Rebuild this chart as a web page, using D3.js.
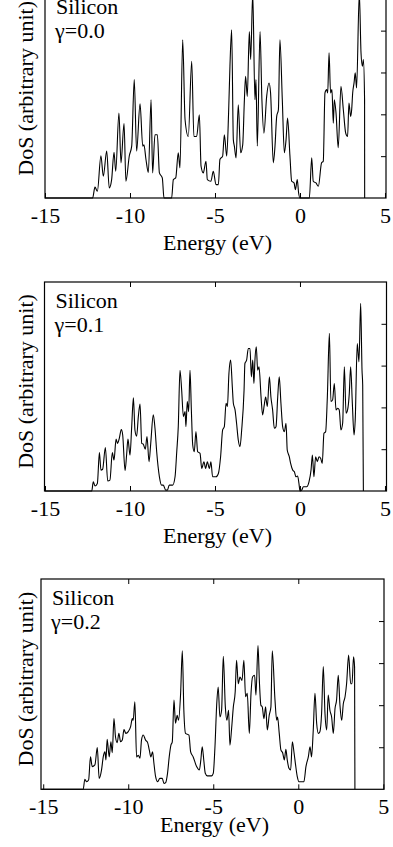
<!DOCTYPE html>
<html>
<head>
<meta charset="utf-8">
<script src="https://cdn.jsdelivr.net/npm/d3@7"></script>
<style>
  html, body { margin: 0; padding: 0; background: #fff; }
  svg { display: block; }
  text { font-family: "Liberation Serif", "Times New Roman", serif; fill: #000; }
</style>
</head>
<body>
<svg id="chart" width="393" height="847"></svg>
<script>
// ---------- data ----------
const material = "Silicon";
const gammaLabels = ["γ=0.0", "γ=0.1", "γ=0.2"];
const xTickValues = [-15, -10, -5, 0, 5];
const xTickLabels = ["-15", "-10", "-5", "0", "5"];
const yTickValues = [1, 2, 3, 4];
const xAxisTitle = "Energy (eV)";
const yAxisTitle = "DoS (arbitrary unit)";

// gamma = 0.0
const energy0 = [-15,-12.2,-12.06,-11.92,-11.71,-11.57,-11.37,-11.22,-11.08,-10.94,-10.84,-10.65,-10.53,-10.35,-10.24,-10.04,-9.9,-9.75,-9.61,-9.41,-9.25,-9.18,-9.06,-8.92,-8.76,-8.67,-8.53,-8.39,-8.27,-8.1,-8.0,-7.55,-7.45,-7.31,-7.16,-7.06,-6.9,-6.76,-6.57,-6.37,-6.24,-6.08,-5.92,-5.82,-5.69,-5.53,-5.45,-5.24,-5.1,-4.94,-4.8,-4.71,-4.55,-4.45,-4.31,-4.2,-4.12,-4.02,-3.92,-3.86,-3.76,-3.63,-3.49,-3.37,-3.27,-3.2,-3.1,-2.98,-2.9,-2.78,-2.65,-2.59,-2.51,-2.35,-2.24,-2.12,-1.96,-1.82,-1.73,-1.57,-1.47,-1.37,-1.27,-1.18,-1.04,-0.92,-0.82,-0.73,-0.59,-0.49,-0.35,-0.27,-0.16,-0.08,0,0.55,0.69,0.78,0.94,1.08,1.27,1.37,1.47,1.57,1.63,1.71,1.8,1.88,1.96,2.02,2.12,2.25,2.41,2.55,2.69,2.8,2.88,2.98,3.04,3.1,3.18,3.25,3.33,3.49,3.59,3.67,3.73,3.8,3.805];
const dos0 = [0,0,0.26,0.16,1.01,0.52,1.12,0.24,0.44,1.09,0.64,2.03,0.84,1.78,0.4,1.01,1.24,2.83,1.12,2.25,1.24,1.27,0.92,0.61,2.35,0.6,1.51,1.51,0.6,0.48,0,0,0.44,0.48,1.08,0.72,3.78,1.87,1.47,3.27,1.47,1.47,1.99,0.76,0.6,0.88,0.44,0.4,0.64,0.32,0.32,0.92,1.0,1.51,1.0,2.03,3.15,4.02,1.39,1.24,0.96,2.23,1.08,1.27,2.35,2.91,2.43,3.98,3.31,4.9,2.35,2.83,1.24,3.98,2.35,1.55,2.43,2.75,2.51,0.84,1.24,1.95,2.11,3.78,2.35,1.08,1.39,1.91,1.0,0.4,0.36,0.2,0.44,0.12,0,0,0.96,0.4,0.36,0.28,0.84,0.88,2.51,2.59,2.51,3.47,2.51,2.59,1.79,2.35,2.03,1.2,2.67,2.11,1.55,1.47,2.27,1.95,2.11,2.51,2.75,2.99,2.63,4.9,3.47,3.15,3.31,2.35,0];

// gamma = 0.1
const energy1 = [-15,-12.25,-12.16,-12.06,-11.92,-11.8,-11.71,-11.61,-11.45,-11.31,-11.18,-11.04,-10.94,-10.82,-10.73,-10.63,-10.51,-10.43,-10.29,-10.2,-10.12,-10.0,-9.9,-9.8,-9.71,-9.61,-9.51,-9.41,-9.31,-9.22,-9.1,-9.0,-8.88,-8.78,-8.63,-8.53,-8.43,-8.27,-8.14,-8.04,-7.9,-7.8,-7.69,-7.49,-7.35,-7.25,-7.16,-7.06,-6.96,-6.86,-6.76,-6.71,-6.63,-6.55,-6.47,-6.39,-6.31,-6.22,-6.12,-6.02,-5.88,-5.78,-5.65,-5.55,-5.45,-5.33,-5.24,-5.14,-4.94,-4.8,-4.67,-4.55,-4.45,-4.35,-4.27,-4.18,-4.08,-3.98,-3.92,-3.82,-3.73,-3.63,-3.53,-3.43,-3.29,-3.24,-3.14,-3.04,-2.94,-2.86,-2.78,-2.71,-2.65,-2.57,-2.49,-2.41,-2.29,-2.2,-2.1,-2.02,-1.92,-1.8,-1.71,-1.61,-1.51,-1.41,-1.31,-1.22,-1.12,-1.02,-0.92,-0.82,-0.75,-0.63,-0.55,-0.43,-0.33,-0.24,-0.14,-0.06,0,0.1,0.2,0.39,0.53,0.65,0.73,0.82,0.92,1.02,1.12,1.22,1.31,1.41,1.51,1.61,1.73,1.82,1.92,2.02,2.12,2.22,2.31,2.41,2.51,2.61,2.71,2.8,2.9,2.98,3.08,3.18,3.25,3.37,3.47,3.57,3.65,3.69,3.73];
const dos1 = [0,0,0.22,0.12,0.18,0.92,0.5,0.52,1.04,0.24,0.26,0.92,0.74,1.24,1.14,1.26,1.47,1.34,0.49,0.86,1.24,0.86,1.54,2.23,1.46,1.31,1.78,2.08,1.14,1.12,1.0,1.3,0.7,1.14,1.82,1.5,0.94,0.34,0.14,0.14,0.02,0.02,0.14,0.14,0.34,0.94,1.54,2.89,2.41,1.78,1.9,1.54,2.14,1.9,2.89,1.94,1.1,0.94,1.42,0.94,0.9,0.54,0.7,0.54,0.7,0.54,0.7,0.34,0.34,0.42,0.82,1.46,1.54,2.1,2.02,2.81,3.13,2.49,2.1,1.94,1.62,1.22,1.06,1.46,2.41,3.05,3.13,3.41,3.41,2.73,3.13,2.57,3.13,3.45,2.89,2.97,2.25,1.82,2.06,2.25,2.02,2.73,2.25,1.94,1.5,1.54,2.25,2.73,2.1,1.54,1.42,1.62,0.98,0.82,0.66,0.5,0.46,0.34,0.36,0.18,0,0.02,0.1,0.1,0.22,0.5,0.86,0.34,0.82,0.7,0.82,0.78,0.66,1.38,1.42,2.25,3.77,2.14,2.18,2.57,1.94,1.98,1.94,1.46,1.62,2.97,1.86,1.94,2.33,2.97,2.1,1.34,1.7,3.53,3.09,4.49,2.89,2.53,0];

// gamma = 0.2
const energy2 = [-15.1,-12.65,-12.55,-12.45,-12.33,-12.22,-12.12,-11.96,-11.82,-11.71,-11.57,-11.47,-11.37,-11.31,-11.24,-11.12,-11.02,-10.94,-10.84,-10.75,-10.65,-10.55,-10.45,-10.35,-10.25,-10.14,-10.0,-9.86,-9.76,-9.71,-9.61,-9.51,-9.41,-9.31,-9.22,-9.12,-8.98,-8.86,-8.76,-8.67,-8.57,-8.49,-8.39,-8.27,-8.14,-8.0,-7.9,-7.8,-7.69,-7.59,-7.49,-7.41,-7.31,-7.22,-7.12,-7.04,-6.92,-6.82,-6.73,-6.63,-6.43,-6.33,-6.18,-5.98,-5.82,-5.73,-5.65,-5.55,-5.47,-5.35,-5.1,-5.0,-4.9,-4.8,-4.71,-4.61,-4.51,-4.41,-4.29,-4.2,-4.1,-4.02,-3.92,-3.82,-3.71,-3.63,-3.53,-3.43,-3.31,-3.2,-3.1,-3.0,-2.88,-2.78,-2.69,-2.57,-2.49,-2.37,-2.29,-2.2,-2.12,-2.02,-1.92,-1.82,-1.71,-1.61,-1.53,-1.37,-1.27,-1.22,-1.12,-1.02,-0.92,-0.82,-0.73,-0.65,-0.55,-0.45,-0.35,-0.25,-0.16,-0.06,0.04,0.33,0.45,0.59,0.69,0.78,0.88,0.98,1.08,1.18,1.27,1.37,1.47,1.57,1.67,1.76,1.86,1.96,2.06,2.16,2.25,2.35,2.45,2.55,2.65,2.75,2.84,2.96,3.08,3.16,3.25,3.31,3.33];
const dos2 = [0,0,0.24,0.18,0.22,0.77,0.54,0.58,0.99,0.26,0.46,0.77,0.89,0.7,1.19,0.77,1.13,0.87,1.68,1.25,1.11,1.33,1.13,1.17,1.42,1.33,1.37,1.49,1.68,1.64,2.08,0.77,0.81,0.74,1.17,1.29,1.17,1.11,0.93,0.77,0.89,0.62,0.3,0.18,0.26,0.26,0.14,0.16,0.38,0.77,1.05,1.13,2.12,1.57,1.76,1.64,2.28,3.29,1.88,1.33,1.29,0.89,0.77,0.54,0.46,0.7,1.01,0.66,0.38,0.32,0.32,0.38,1.01,2.0,2.43,1.72,1.88,3.16,1.96,1.64,1.88,1.05,1.45,1.96,2.32,3.07,2.51,2.67,2.59,3.07,2.2,2.28,1.33,2.28,2.67,2.71,2.24,3.42,2.59,2.0,1.96,1.68,1.96,1.41,1.76,1.96,3.29,2.12,1.64,1.72,1.33,0.93,0.87,0.7,0.95,0.7,0.5,0.46,1.13,0.87,0.58,0.3,0.18,0.18,0.54,0.77,1.01,0.77,1.41,2.28,1.57,1.33,1.37,1.8,2.92,1.8,1.41,2.24,1.88,1.72,1.33,1.92,2.12,2.71,2.0,1.64,2.04,2.2,2.51,3.19,2.51,2.51,3.15,2.91,0];

const energies = [energy0, energy1, energy2];
const dosValues = [dos0, dos1, dos2];

// ---------- layout (pixels) ----------
const panels = [
  { left: 45,   right: 386,   top: -11.2, bottom: 198,   xDomain: [-15, 5.06],    labelGap: 52 },
  { left: 44.5, right: 386.5, top: 282,   bottom: 491,   xDomain: [-15.03, 5.09], labelGap: 52 },
  { left: 41,   right: 384,   top: 579,   bottom: 789.3, xDomain: [-15.13, 5.04], labelGap: 43 }
];
const fontSize = 22;

const svg = d3.select("#chart");

panels.forEach((p, i) => {
  const x = d3.scaleLinear().domain(p.xDomain).range([p.left, p.right]);
  const y = d3.scaleLinear().domain([0, 5]).range([p.bottom, p.top]);
  const g = svg.append("g");

  // curve
  const pts = energies[i].map((e, k) => [e, dosValues[i][k]]);
  g.append("path")
    .datum(pts)
    .attr("fill", "none")
    .attr("stroke", "#000")
    .attr("stroke-width", 1.1)
    .attr("stroke-linejoin", "round")
    .attr("d", d3.line().curve(d3.curveMonotoneX).x(d => x(d[0])).y(d => y(d[1])));

  // bottom axis with labels, inward ticks
  const bx = g.append("g").attr("transform", `translate(0,${p.bottom})`)
    .call(d3.axisBottom(x).tickValues(xTickValues)
      .tickFormat((d, j) => xTickLabels[j]).tickSize(-5).tickPadding(9));
  bx.select(".domain").remove();
  bx.selectAll("text").style("font-size", fontSize + "px")
    .style("font-family", '"Liberation Serif", serif').attr("fill", "#000");
  bx.selectAll("line").attr("stroke", "#000");

  // top axis ticks
  const tx = g.append("g").attr("transform", `translate(0,${p.top})`)
    .call(d3.axisTop(x).tickValues(xTickValues.slice(1, -1)).tickFormat("").tickSize(-5));
  tx.select(".domain").remove();
  tx.selectAll("line").attr("stroke", "#000");

  // right axis ticks
  const ry = g.append("g").attr("transform", `translate(${p.right},0)`)
    .call(d3.axisLeft(y).tickValues(yTickValues).tickFormat("").tickSize(5));
  ry.select(".domain").remove();
  ry.selectAll("line").attr("stroke", "#000");

  // frame
  g.append("rect")
    .attr("x", p.left).attr("y", p.top)
    .attr("width", p.right - p.left).attr("height", p.bottom - p.top)
    .attr("fill", "none").attr("stroke", "#000").attr("stroke-width", 1.2);

  // annotations
  g.append("text").attr("x", p.left + 11).attr("y", p.top + 25.5)
    .style("font-size", fontSize + "px").text(material);
  g.append("text").attr("x", p.left + 10).attr("y", p.top + 49.5)
    .style("font-size", fontSize + "px").text(gammaLabels[i]);

  // axis titles
  g.append("text")
    .attr("x", (p.left + p.right) / 2 + 2)
    .attr("y", p.bottom + p.labelGap)
    .attr("text-anchor", "middle")
    .style("font-size", fontSize + "px")
    .text(xAxisTitle);
  g.append("text")
    .attr("transform", `translate(33,${(p.top + p.bottom) / 2 - 5}) rotate(-90)`)
    .attr("text-anchor", "middle")
    .style("font-size", fontSize + "px")
    .text(yAxisTitle);
});
</script>
</body>
</html>
